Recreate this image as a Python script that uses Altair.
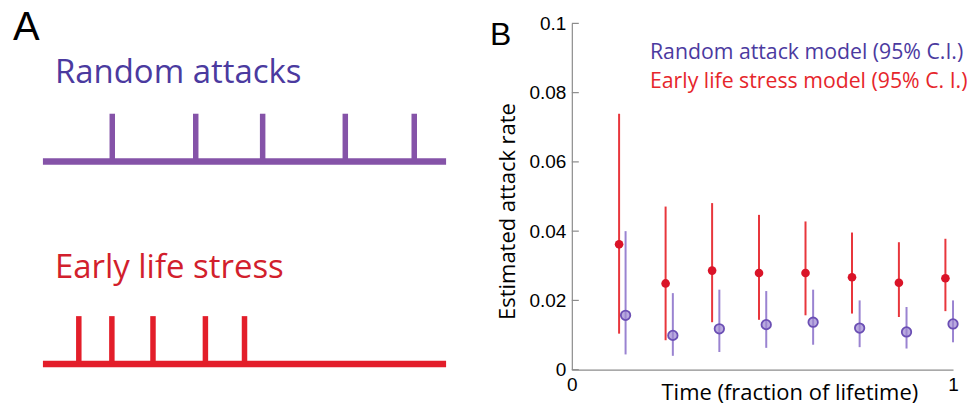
import altair as alt
import pandas as pd

# ---------------- data ----------------
panel_labels = ["A", "B"]

# Panel A: schematic attack times (fraction of lifetime)
schematic_rows = ["Random attacks", "Early life stress"]
random_attack_times = [0.172, 0.379, 0.545, 0.750, 0.921]
early_stress_times = [0.089, 0.171, 0.273, 0.403, 0.500]
lifetime_bounds = [0.0, 1.0]

# Panel B: estimated attack rates with 95% C.I.
random_time = [0.141, 0.265, 0.387, 0.510, 0.633, 0.755, 0.878, 1.000]
random_rate = [0.0157, 0.0099, 0.0118, 0.0130, 0.0137, 0.0120, 0.0109, 0.0132]
random_lo = [0.0044, 0.0040, 0.0051, 0.0063, 0.0072, 0.0065, 0.0061, 0.0079]
random_hi = [0.0400, 0.0221, 0.0231, 0.0227, 0.0231, 0.0200, 0.0181, 0.0200]

stress_time = [0.124, 0.246, 0.368, 0.491, 0.613, 0.735, 0.858, 0.980]
stress_rate = [0.0362, 0.0249, 0.0286, 0.0279, 0.0279, 0.0267, 0.0251, 0.0264]
stress_lo = [0.0104, 0.0085, 0.0137, 0.0144, 0.0157, 0.0162, 0.0152, 0.0169]
stress_hi = [0.0739, 0.0471, 0.0481, 0.0447, 0.0428, 0.0396, 0.0368, 0.0378]

y_ticks = [0, 0.02, 0.04, 0.06, 0.08, 0.1]
x_ticks = [0, 1]
legend_labels = ["Random attack model (95% C.I.)", "Early life stress model (95% C. I.)"]

# ---------------- styles ----------------
PURPLE_LINE = "#8553A8"
PURPLE_TEXT = "#4B3A9F"
RED_LINE = "#E31E2A"
RED_TEXT = "#D21F2D"
PURPLE_PT_FILL = "#9C88D2"
PURPLE_PT_STROKE = "#6B4FB4"
PURPLE_BAR = "#9A83D1"
RED_PT = "#DA1428"
RED_BAR = "#E8363C"
LEGEND_RED = "#E6262B"
AXIS_GRAY = "#8C8C8C"
HUMANIST = "Open Sans"
HELV = "Liberation Sans"

labels_df = pd.DataFrame({"panel": panel_labels})

def panel_letter(letter, xpix, ypix, size):
    return alt.Chart(labels_df).transform_filter(alt.datum.panel == letter).mark_text(
        align="left", baseline="alphabetic", font=HELV, fontSize=size, color="black",
    ).encode(x=alt.value(xpix), y=alt.value(ypix), text="panel:N")

# ---------------- panel A ----------------
rows_df = pd.DataFrame({"row": schematic_rows,
                        "start": [lifetime_bounds[0]] * 2,
                        "end": [lifetime_bounds[1]] * 2})
spikes_df = pd.DataFrame({
    "row": [schematic_rows[0]] * len(random_attack_times) + [schematic_rows[1]] * len(early_stress_times),
    "t": random_attack_times + early_stress_times,
})

xA = alt.Scale(domain=lifetime_bounds, range=[35, 439])
yA = alt.Scale(domain=schematic_rows, range=[90.6, 341.3], paddingInner=0.764, paddingOuter=0)
colA = alt.Scale(domain=schematic_rows, range=[PURPLE_LINE, RED_LINE])

baseline = alt.Chart(rows_df).mark_rule(strokeWidth=6.5, opacity=1).encode(
    x=alt.X("start:Q", scale=xA, axis=None),
    x2="end:Q",
    y=alt.Y("row:N", scale=yA, axis=None, bandPosition=1),
    color=alt.Color("row:N", scale=colA, legend=None),
)
spikes = alt.Chart(spikes_df).mark_tick(thickness=5.5, size=48, opacity=1).encode(
    x=alt.X("t:Q", scale=xA, axis=None),
    y=alt.Y("row:N", scale=yA, axis=None),
    color=alt.Color("row:N", scale=colA, legend=None),
)

def row_label(name, color, dy):
    return alt.Chart(rows_df).transform_filter(alt.datum.row == name).mark_text(
        align="left", baseline="alphabetic", dx=12, dy=dy,
        font=HUMANIST, fontSize=33, color=color,
    ).encode(
        x=alt.X("start:Q", scale=xA, axis=None),
        y=alt.Y("row:N", scale=yA, axis=None, bandPosition=0),
        text="row:N",
    )

panel_a = alt.layer(
    baseline, spikes,
    row_label(schematic_rows[0], PURPLE_TEXT, -31),
    row_label(schematic_rows[1], RED_TEXT, -38),
    panel_letter("A", 5, 17, 40),
).properties(width=470, height=347)

# ---------------- panel B ----------------
random_df = pd.DataFrame({"time": random_time, "rate": random_rate, "lo": random_lo, "hi": random_hi})
stress_df = pd.DataFrame({"time": stress_time, "rate": stress_rate, "lo": stress_lo, "hi": stress_hi})
tick_df = pd.DataFrame({"tick": y_ticks, "origin": [0] * len(y_ticks)})
legend_df = pd.DataFrame({"label": legend_labels})

xB = alt.Scale(domain=[0, 1], nice=False, zero=False)
yB = alt.Scale(domain=[0, 0.1], nice=False)

x_axis = alt.Axis(values=x_ticks, format="~g", title="Time (fraction of lifetime)",
                  labelFont=HELV, labelFontSize=19, labelColor="black", labelPadding=6,
                  labelFlush=False, ticks=False, tickSize=0, domainColor=AXIS_GRAY,
                  domainWidth=1.2, grid=False, titleFont=HUMANIST, titleFontSize=22,
                  titleFontWeight="normal", titleColor="black", titleX=218, titleY=30,
                  titleBaseline="alphabetic", titleAlign="center")
y_axis = alt.Axis(values=y_ticks, format="~g", title="Estimated attack rate",
                  labelFont=HELV, labelFontSize=19, labelColor="black", labelPadding=6,
                  labelFlush=False, ticks=False, tickSize=0, domainColor=AXIS_GRAY,
                  domainWidth=1.2, grid=False, titleFont=HUMANIST, titleFontSize=22,
                  titleFontWeight="normal", titleColor="black", titleX=-57.7, titleY=188,
                  titleBaseline="alphabetic", titleAlign="center")

def xenc(field="time"):
    return alt.X(f"{field}:Q", scale=xB, axis=x_axis)

def yenc(field):
    return alt.Y(f"{field}:Q", scale=yB, axis=y_axis)

inner_ticks = alt.Chart(tick_df).mark_rule(color=AXIS_GRAY, strokeWidth=1.2).encode(
    x=xenc("origin"), x2=alt.value(7), y=yenc("tick"))

stress_bars = alt.Chart(stress_df).mark_rule(color=RED_BAR, strokeWidth=2).encode(
    x=xenc(), y=yenc("lo"), y2="hi:Q")
stress_pts = alt.Chart(stress_df).mark_circle(color=RED_PT, size=75, opacity=1).encode(
    x=xenc(), y=yenc("rate"))
random_bars = alt.Chart(random_df).mark_rule(color=PURPLE_BAR, strokeWidth=2).encode(
    x=xenc(), y=yenc("lo"), y2="hi:Q")
random_pts = alt.Chart(random_df).mark_point(
    filled=True, fill=PURPLE_PT_FILL, fillOpacity=0.7, stroke=PURPLE_PT_STROKE,
    strokeWidth=1.8, size=90, opacity=1).encode(x=xenc(), y=yenc("rate"))

def legend_text(name, color, ypix):
    return alt.Chart(legend_df).transform_filter(alt.datum.label == name).mark_text(
        align="left", baseline="alphabetic", font=HUMANIST, fontSize=21.3, color=color,
    ).encode(x=alt.value(78.3), y=alt.value(ypix), text="label:N")

panel_b = alt.layer(
    inner_ticks, stress_bars, random_bars, stress_pts, random_pts,
    legend_text(legend_labels[0], PURPLE_TEXT, 36),
    legend_text(legend_labels[1], LEGEND_RED, 65),
    panel_letter("B", -82, 21.3, 32),
).properties(width=382, height=347)

chart = alt.hconcat(panel_a, panel_b, spacing=13).properties(
    padding={"left": 0, "top": 0, "right": 0, "bottom": 0}
).configure_view(stroke=None)

chart.save("out.html", embed_options={"renderer": "svg", "actions": False})
